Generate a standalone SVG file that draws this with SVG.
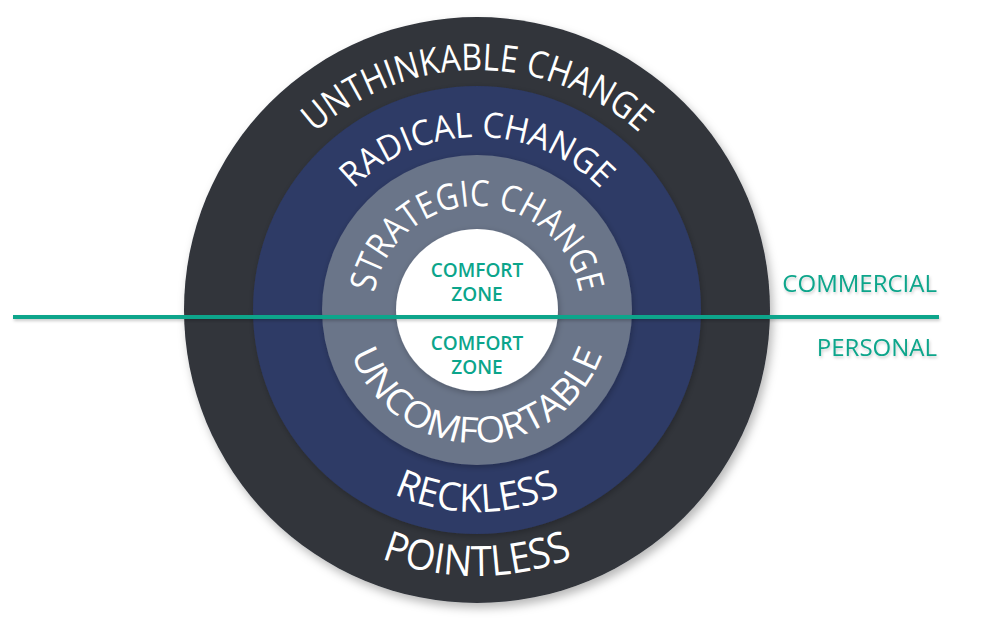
<svg xmlns="http://www.w3.org/2000/svg" xmlns:xlink="http://www.w3.org/1999/xlink" width="1000" height="624" viewBox="0 0 1000 624">
  <defs>
    <filter id="shadow" x="-20%" y="-20%" width="140%" height="140%">
      <feDropShadow dx="3" dy="5" stdDeviation="5" flood-color="#000" flood-opacity="0.28"/>
    </filter>
    <filter id="soft" x="-20%" y="-20%" width="140%" height="140%">
      <feDropShadow dx="1" dy="2" stdDeviation="3" flood-color="#000" flood-opacity="0.25"/>
    </filter>
    <filter id="tshadow" filterUnits="userSpaceOnUse" x="0" y="250" width="1000" height="130">
      <feDropShadow dx="1" dy="2" stdDeviation="1.5" flood-color="#000" flood-opacity="0.2"/>
    </filter>
    <path id="pUnthink" d="M 237 310 A 240 240 0 0 1 717 310"/>
    <path id="pRadical" d="M 304 310 A 173 173 0 0 1 650 310"/>
    <path id="pStrategic" d="M 373 310 A 104 104 0 0 1 581 310"/>
    <path id="pUncomf" d="M 344 310 A 133 133 0 0 0 610 310"/>
    <path id="pReckless" d="M 275 310 A 202 202 0 0 0 679 310"/>
    <path id="pPointless" d="M 211 310 A 266 266 0 0 0 743 310"/>
  </defs>
  <style>
    .ring-label { font-family: "Open Sans", "Liberation Sans", sans-serif; fill: #ffffff; text-anchor: middle; }
    .zone { font-family: "Open Sans", "Liberation Sans", sans-serif; font-weight: 600; font-size: 19px; fill: #0ba58b; text-anchor: middle; }
    .side { font-family: "Open Sans", "Liberation Sans", sans-serif; font-size: 24px; fill: #0ba58b; text-anchor: end; }
  </style>
  <rect width="1000" height="624" fill="#ffffff"/>

  <g id="outer-ring">
    <circle cx="477" cy="310" r="293" fill="#30343b" filter="url(#shadow)"/>
  </g>
  <g id="radical-ring">
    <circle cx="477" cy="310" r="224" fill="#2d3a66" filter="url(#soft)"/>
  </g>
  <g id="strategic-ring">
    <circle cx="477" cy="310" r="155" fill="#6b7589" filter="url(#soft)"/>
  </g>
  <g id="comfort-zone">
    <circle cx="477" cy="310" r="81" fill="#ffffff" filter="url(#soft)"/>
  </g>

  <g id="ring-labels">
    <text class="ring-label" font-size="37"><textPath xlink:href="#pUnthink" href="#pUnthink" startOffset="50%" textLength="356" lengthAdjust="spacingAndGlyphs">UNTHINKABLE CHANGE</textPath></text>
    <text class="ring-label" font-size="35"><textPath xlink:href="#pRadical" href="#pRadical" startOffset="50%" textLength="276" lengthAdjust="spacingAndGlyphs">RADICAL CHANGE</textPath></text>
    <text class="ring-label" font-size="36"><textPath xlink:href="#pStrategic" href="#pStrategic" startOffset="50%" textLength="292" lengthAdjust="spacingAndGlyphs">STRATEGIC CHANGE</textPath></text>
    <text class="ring-label" font-size="36"><textPath xlink:href="#pUncomf" href="#pUncomf" startOffset="50%" textLength="328" lengthAdjust="spacingAndGlyphs">UNCOMFORTABLE</textPath></text>
    <text class="ring-label" font-size="39"><textPath xlink:href="#pReckless" href="#pReckless" startOffset="50%" textLength="172" lengthAdjust="spacingAndGlyphs">RECKLESS</textPath></text>
    <text class="ring-label" font-size="42"><textPath xlink:href="#pPointless" href="#pPointless" startOffset="50%" textLength="196" lengthAdjust="spacingAndGlyphs">POINTLESS</textPath></text>
  </g>

  <g id="comfort-labels">
    <text class="zone" x="477" y="277">COMFORT</text>
    <text class="zone" x="477" y="301">ZONE</text>
    <text class="zone" x="477" y="350">COMFORT</text>
    <text class="zone" x="477" y="374">ZONE</text>
  </g>

  <g id="connectors" filter="url(#tshadow)">
    <rect x="13" y="315" width="926" height="4" fill="#0ba58b"/>
  </g>

  <g id="commercial" filter="url(#tshadow)">
    <text class="side" x="937" y="292">COMMERCIAL</text>
  </g>
  <g id="personal" filter="url(#tshadow)">
    <text class="side" x="937" y="356">PERSONAL</text>
  </g>
</svg>
